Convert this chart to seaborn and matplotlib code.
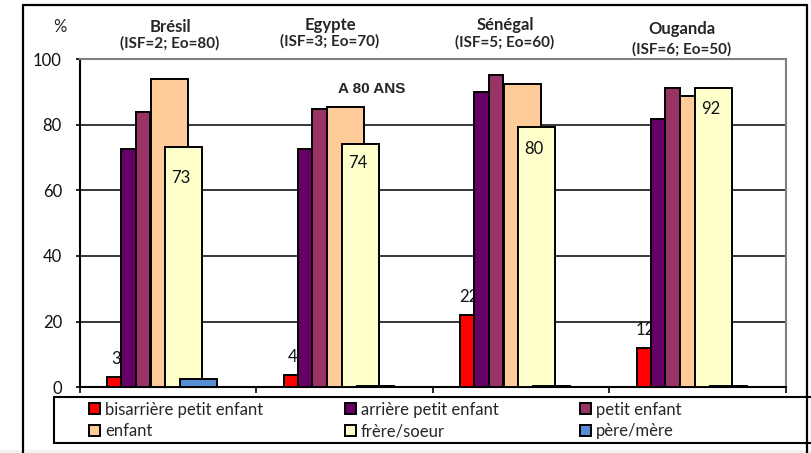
import numpy as np
import seaborn as sns
import matplotlib.pyplot as plt
from matplotlib.patches import Patch, Rectangle
from matplotlib.lines import Line2D

# === Données ===
pays = ["Brésil", "Egypte", "Sénégal", "Ouganda"]
sous_titres = ["(ISF=2; Eo=80)", "(ISF=3; Eo=70)", "(ISF=5; Eo=60)", "(ISF=6; Eo=50)"]
series_noms = ["bisarrière petit enfant", "arrière petit enfant", "petit enfant",
               "enfant", "frère/soeur", "père/mère"]
bisarriere = [3.2, 3.8, 21.9, 11.9]
arriere = [72.5, 72.5, 89.9, 81.7]
petit_enfant = [83.8, 84.8, 95.1, 91.2]
enfant = [93.8, 85.5, 92.4, 88.8]
frere_soeur = [73.1, 74.1, 79.3, 91.2]
pere_mere = [2.4, 0.5, 0.5, 0.5]
labels_bis = ["3", "4", "22", "12"]
labels_frere = ["73", "74", "80", "92"]
y_ticks = [0, 20, 40, 60, 80, 100]

valeurs = [bisarriere, arriere, petit_enfant, enfant, frere_soeur, pere_mere]
couleurs = ["#FF0000", "#660066", "#993366", "#FFCC99", "#FFFFCC", "#558ED5"]

# bars: left offset within group and width (two overlapping sets, like Excel)
offsets = [0.153, 0.235, 0.317, 0.400, 0.484, 0.567]
largeurs = [0.082, 0.082, 0.082, 0.210, 0.210, 0.210]

sns.set_style("white")
plt.rcParams['font.family'] = ['Lato', 'DejaVu Sans']

W, H = 812, 453
fig = plt.figure(figsize=(W / 100, H / 100), dpi=100)

def fx(px):
    return px / W

def fy(py):
    return 1 - py / H

ax = fig.add_axes([fx(80), fy(387.3), fx(786) - fx(80), fy(59) - fy(387.3)])

idx = np.arange(len(pays))
for i, (vals, col) in enumerate(zip(valeurs, couleurs)):
    sns.barplot(x=idx + offsets[i] + largeurs[i] / 2, y=vals, native_scale=True,
                width=largeurs[i], color=col, saturation=1, errorbar=None,
                edgecolor="black", linewidth=1.4, zorder=3 + i, ax=ax)

# étiquettes
for i in range(len(pays)):
    xr = i + offsets[0] + largeurs[0] / 2
    ax.annotate(labels_bis[i], (xr, bisarriere[i]), xytext=(1, 13),
                textcoords="offset points", ha="center", va="center",
                fontsize=12, color="#111111", zorder=3.5)
label_dy = [-22, -14, -16, -15]
for i in range(len(pays)):
    xr = i + offsets[4] + largeurs[4] / 2
    ax.annotate(labels_frere[i], (xr, frere_soeur[i]), xytext=(-2, label_dy[i]),
                textcoords="offset points", ha="center", va="center",
                fontsize=12, color="#111111", zorder=7.5)

ax.set_xlim(0, 4)
ax.set_ylim(0, 100)
ax.set_xticks(np.arange(5))
ax.set_xticklabels([])
ax.set_yticks(y_ticks)
ax.set_yticklabels([str(t) for t in y_ticks], fontsize=12, color="#111111")
ax.set_xlabel("")
ax.set_ylabel("")
ax.grid(False)
for t in y_ticks[1:-1]:
    ax.axhline(t, color="black", lw=1.1, zorder=1)
ax.tick_params(axis="y", direction="out", length=3, width=1.4, pad=10, left=True)
ax.tick_params(axis="x", direction="out", length=4.5, width=1.4, bottom=True)
for s in ["left", "bottom"]:
    ax.spines[s].set_color("black")
    ax.spines[s].set_linewidth(1.5)
for s in ["top", "right"]:
    ax.spines[s].set_visible(True)
    ax.spines[s].set_color("#808080")
    ax.spines[s].set_linewidth(1.5)

# titres des pays
pos_titres = [(170, 27.5, 43.5), (330, 25, 41), (505, 25, 42.5), (682, 29, 49)]
for (x, y1, y2), p, st in zip(pos_titres, pays, sous_titres):
    fig.text(fx(x), fy(y1), p, ha="center", va="center", fontsize=12, fontweight="bold")
    fig.text(fx(x), fy(y2), st, ha="center", va="center", fontsize=11, fontweight="bold")

fig.text(fx(60), fy(27), "%", ha="center", va="center", fontsize=12)
fig.text(fx(372), fy(89), "A 80 ANS", ha="center", va="center", fontsize=11,
         fontweight="bold", family="Liberation Sans")

# légende (ordre en lignes comme Excel)
handles = [Patch(facecolor=c, edgecolor="black", linewidth=1.4) for c in couleurs]
ordre = [0, 3, 1, 4, 2, 5]
fig.legend([handles[k] for k in ordre], [series_noms[k] for k in ordre], ncol=3,
           loc="center left", bbox_to_anchor=(fx(89), fy(420.5)), frameon=False,
           fontsize=12, handlelength=0.66, handleheight=0.66, handletextpad=0.3,
           columnspacing=4.9, labelspacing=0.35, borderpad=0, borderaxespad=0)
fig.add_artist(Rectangle((fx(54), fy(443)), fx(812) - fx(54), fy(397) - fy(443),
                         transform=fig.transFigure, fill=False, edgecolor="black", lw=1.5))

# cadre extérieur
for xs, ys in [((23, 23), (5, 453)), ((23, 807), (5, 5)), ((807, 807), (5, 453))]:
    fig.add_artist(Line2D([fx(xs[0]), fx(xs[1])], [fy(ys[0]), fy(ys[1])],
                          transform=fig.transFigure, color="black", lw=1.6))
fig.add_artist(Rectangle((0, 0), 1, fy(450), transform=fig.transFigure,
                         color="#f2f2f2", zorder=-1))

plt.savefig("out.png", dpi=100)
